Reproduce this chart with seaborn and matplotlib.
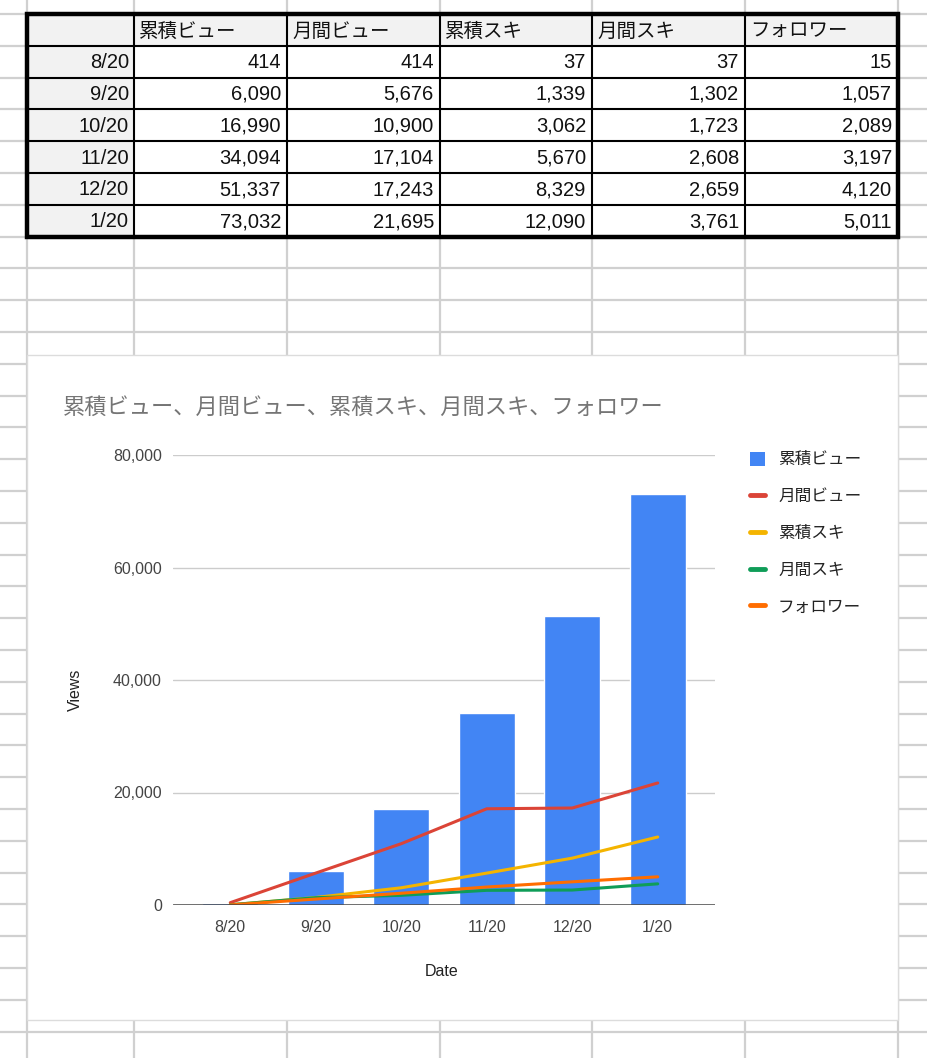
import numpy as np
import pandas as pd
import matplotlib
matplotlib.use("Agg")
import matplotlib.pyplot as plt
import seaborn as sns
from matplotlib.patches import Rectangle, Patch
from matplotlib.lines import Line2D
from matplotlib.ticker import FuncFormatter

# ---------------- data ----------------
dates = ["8/20", "9/20", "10/20", "11/20", "12/20", "1/20"]
series_names = ["累積ビュー", "月間ビュー", "累積スキ", "月間スキ", "フォロワー"]
cum_views = [414, 6090, 16990, 34094, 51337, 73032]
monthly_views = [414, 5676, 10900, 17104, 17243, 21695]
cum_likes = [37, 1339, 3062, 5670, 8329, 12090]
monthly_likes = [37, 1302, 1723, 2608, 2659, 3761]
followers = [15, 1057, 2089, 3197, 4120, 5011]
y_ticks = [0, 20000, 40000, 60000, 80000]
chart_title = "累積ビュー、月間ビュー、累積スキ、月間スキ、フォロワー"
x_label = "Date"
y_label = "Views"

colors = ["#4285F4", "#DB4437", "#F4B400", "#0F9D58", "#FF6D00"]

sns.set_theme(style="white")
plt.rcParams["font.family"] = ["Roboto", "Noto Sans CJK JP", "DejaVu Sans"]

W, H = 928, 1058
fig = plt.figure(figsize=(W / 100, H / 100), dpi=100)

# ---------------- spreadsheet background ----------------
bg = fig.add_axes([0, 0, 1, 1])
bg.set_xlim(0, W)
bg.set_ylim(H, 0)
bg.axis("off")
grid_c = "#d0d0d0"
col_x = [27, 134, 287, 440, 592, 745, 898]
row_h = 31.8
for x in col_x:
    bg.plot([x, x], [0, H], color=grid_c, lw=1.6, zorder=1)
k = 0
while 14 + k * row_h < H:
    yy = 14 + k * row_h
    bg.plot([0, W], [yy, yy], color=grid_c, lw=1.6, zorder=1)
    k += 1

# chart card
bg.add_patch(Rectangle((27, 355), 871, 665, facecolor="white",
                       edgecolor="#dcdcdc", lw=1.0, zorder=2))

# ---------------- table ----------------
row_y = [14 + i * row_h for i in range(8)]
table_font = ["Liberation Sans", "Noto Sans CJK JP"]
bg.add_patch(Rectangle((col_x[0], row_y[0]), col_x[-1] - col_x[0], row_h,
                       facecolor="#f2f2f2", edgecolor="none", zorder=3))
bg.add_patch(Rectangle((col_x[0], row_y[0]), col_x[1] - col_x[0], row_y[-1] - row_y[0],
                       facecolor="#f2f2f2", edgecolor="none", zorder=3))
bg.add_patch(Rectangle((col_x[1], row_y[1]), col_x[-1] - col_x[1], row_y[-1] - row_y[1],
                       facecolor="white", edgecolor="none", zorder=3))
for x in col_x[1:-1]:
    bg.plot([x, x], [row_y[0], row_y[-1]], color="black", lw=1.5, zorder=4)
for yy in row_y[1:-1]:
    bg.plot([col_x[0], col_x[-1]], [yy, yy], color="black", lw=1.5, zorder=4)
bg.add_patch(Rectangle((col_x[0], row_y[0]), col_x[-1] - col_x[0], row_y[-1] - row_y[0],
                       facecolor="none", edgecolor="black", lw=3.2, zorder=5))

for j, name in enumerate(series_names):
    bg.text(col_x[j + 1] + 5, (row_y[0] + row_y[1]) / 2 + 2, name, ha="left", va="center",
            fontsize=14, family=table_font, color="#111111", zorder=6)
all_series = [cum_views, monthly_views, cum_likes, monthly_likes, followers]
for i, d in enumerate(dates):
    yc = (row_y[i + 1] + row_y[i + 2]) / 2 + 1
    bg.text(col_x[1] - 5, yc, d, ha="right", va="center", fontsize=14.5,
            family=table_font, color="#111111", zorder=6)
    for j, s in enumerate(all_series):
        bg.text(col_x[j + 2] - 6, yc, f"{s[i]:,}", ha="right", va="center",
                fontsize=14.5, family=table_font, color="#111111", zorder=6)

# ---------------- chart ----------------
L, R, B, T = 173, 715, 905, 455
ax = fig.add_axes([L / W, 1 - B / H, (R - L) / W, (B - T) / H])
ax.set_facecolor("none")
df = pd.DataFrame({"Date": dates, series_names[0]: cum_views})
sns.barplot(data=df, x="Date", y=series_names[0], color=colors[0], width=0.66,
            saturation=1, ax=ax, zorder=3)
pos = np.arange(len(dates))
for s, name, c in zip(all_series[1:], series_names[1:], colors[1:]):
    sns.lineplot(x=pos, y=s, color=c, lw=2.2, ax=ax, zorder=4)

ax.set_ylim(0, 80000)
ax.set_xlim(-0.67, len(dates) - 0.33)
ax.set_yticks(y_ticks)
ax.yaxis.set_major_formatter(FuncFormatter(lambda v, p: f"{int(v):,}"))
for v in y_ticks[1:]:
    ax.axhline(v, color="#cccccc", lw=1.0, zorder=1)
ax.axhline(0, color="#444444", lw=1.8, zorder=5)
for sp in ax.spines.values():
    sp.set_visible(False)
tick_font = ["Liberation Sans", "Noto Sans CJK JP"]
ax.tick_params(axis="y", length=0, pad=8, labelsize=11.5, labelcolor="#444444")
ax.tick_params(axis="x", length=0, pad=11, labelsize=11.5, labelcolor="#444444")
for lab in ax.get_xticklabels() + ax.get_yticklabels():
    lab.set_family(tick_font)
ax.set_xlabel(x_label, fontsize=11.5, color="#222222", family=tick_font)
ax.set_ylabel(y_label, fontsize=11.5, color="#222222", family=tick_font)
ax.xaxis.set_label_coords((442 - L) / (R - L), -(964 - B) / (B - T))
ax.yaxis.set_label_coords(-(L - 83) / (R - L), (B - 690) / (B - T))
ax.grid(False)

fig.text(63 / W, 1 - 408 / H, chart_title, fontsize=16, color="#757575",
         ha="left", va="center")

handles = [Patch(facecolor=colors[0], edgecolor="none")]
handles += [Line2D([0], [0], color=c, lw=3.5) for c in colors[1:]]
leg = fig.legend(handles, series_names, loc="upper left",
                 bbox_to_anchor=(743 / W, 1 - 445 / H), frameon=False,
                 fontsize=12, handlelength=0.9, handleheight=0.9,
                 handletextpad=0.8, labelspacing=1.27, borderaxespad=0)
for t in leg.get_texts():
    t.set_color("#222222")

fig.savefig("out.png", dpi=100)
